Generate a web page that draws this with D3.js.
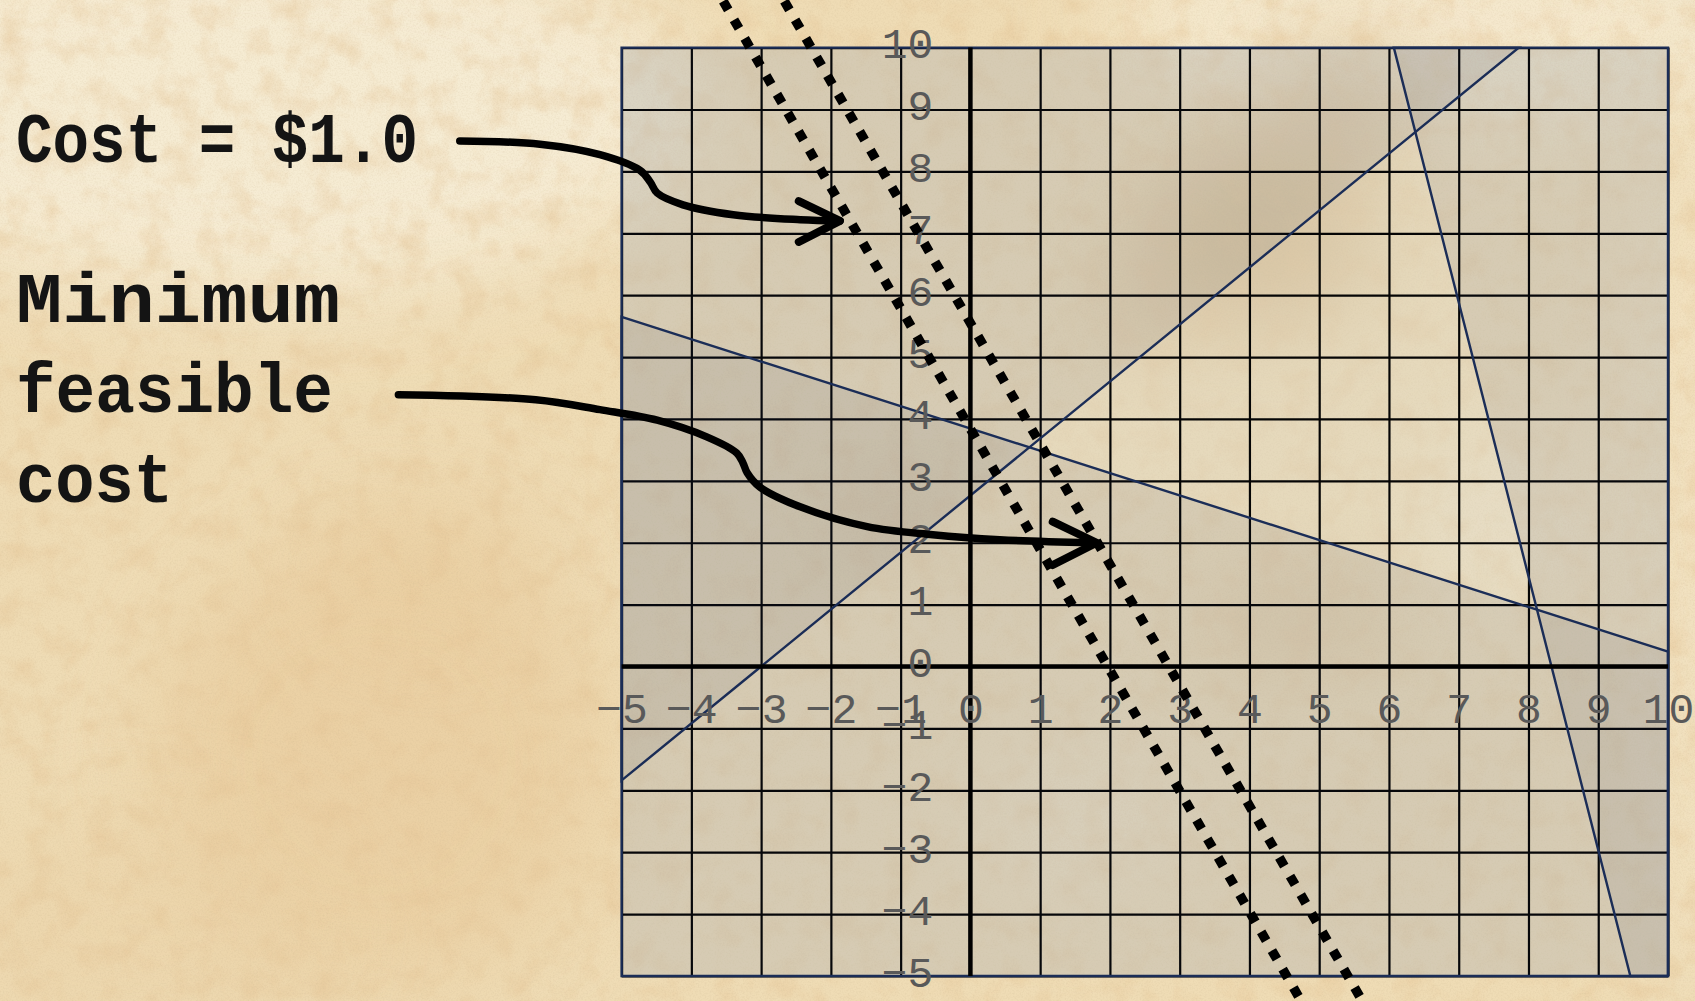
<!DOCTYPE html>
<html>
<head>
<meta charset="utf-8">
<script src="https://cdn.jsdelivr.net/npm/d3@7"></script>
<style>
  html, body { margin: 0; padding: 0; background: #efdbb3; overflow: hidden; }
  svg { display: block; }
</style>
</head>
<body>
<svg id="chart" width="1695" height="1001"></svg>
<script>
// ---- Axis ranges and tick labels ----
const xDomain = [-5, 10];
const yDomain = [-5, 10];
const xTicks = d3.range(-5, 11);
const yTicks = d3.range(-5, 11);

// ---- Constraint boundaries, each given by two (x, y) points ----
const constraintA = [[-5, -1.84], [7.86, 10]];  // rising line, infeasible above it
const constraintB = [[-5, 5.65], [10, 0.24]];   // shallow falling line, infeasible below it
const constraintC = [[6.07, 10], [9.46, -5]];   // steep falling line, infeasible right of it

// ---- Iso-cost lines: y = intercept + slope * x ----
const costSlope = -1.95;
const costIntercepts = [3.84, 5.55];
const costYExtent = [10.75, -5.6];

// ---- Annotation text ----
const costLabel = ["Cost = $1.0"];
const minLabel = ["Minimum", "feasible", "cost"];

// ---- Annotation arrows, in data coordinates ----
const costArrowPath = [[-7.32, 8.49], [-6.17, 8.44], [-5.31, 8.27], [-4.74, 8.02], [-4.59, 7.83],
  [-4.49, 7.65], [-4.12, 7.46], [-3.40, 7.30], [-2.44, 7.22], [-1.87, 7.20]];
const costArrowHead = [[-2.46, 7.52], [-1.87, 7.20], [-2.46, 6.86]];
const minArrowPath = [[-8.20, 4.39], [-6.23, 4.31], [-5.31, 4.15], [-4.49, 3.98], [-3.78, 3.71],
  [-3.35, 3.45], [-3.26, 3.29], [-3.20, 3.13], [-3.02, 2.90], [-2.44, 2.58], [-1.48, 2.26],
  [-0.54, 2.13], [0.42, 2.05], [1.74, 2.00]];
const minArrowHead = [[1.18, 2.34], [1.81, 2.00], [1.18, 1.64]];

// ---- Layout ----
const W = 1695, H = 1001;
const plot = { left: 621.6, right: 1668, top: 47.6, bottom: 976 };
const navy = "#1b2d57";

const svg = d3.select("#chart");
const x = d3.scaleLinear().domain(xDomain).range([plot.left, plot.right]);
const y = d3.scaleLinear().domain(yDomain).range([plot.bottom, plot.top]);

// ---- Parchment background ----
const defs = svg.append("defs");
const soft = defs.append("filter").attr("id", "soft")
  .attr("x", "-50%").attr("y", "-50%").attr("width", "200%").attr("height", "200%");
soft.append("feGaussianBlur").attr("stdDeviation", 45);
const soft2 = defs.append("filter").attr("id", "soft2")
  .attr("x", "-50%").attr("y", "-50%").attr("width", "200%").attr("height", "200%");
soft2.append("feGaussianBlur").attr("stdDeviation", 14);
const grain = defs.append("filter").attr("id", "grain")
  .attr("x", 0).attr("y", 0).attr("width", "100%").attr("height", "100%");
grain.append("feTurbulence").attr("type", "fractalNoise")
  .attr("baseFrequency", 0.035).attr("numOctaves", 4).attr("seed", 11);
grain.append("feColorMatrix").attr("type", "matrix")
  .attr("values", "0 0 0 0 0.78  0 0 0 0 0.55  0 0 0 0 0.30  0 0 0 -2.2 1.25");
const fine = defs.append("filter").attr("id", "fine")
  .attr("x", 0).attr("y", 0).attr("width", "100%").attr("height", "100%");
fine.append("feTurbulence").attr("type", "fractalNoise")
  .attr("baseFrequency", 0.6).attr("numOctaves", 2).attr("seed", 3);
fine.append("feColorMatrix").attr("type", "matrix")
  .attr("values", "0 0 0 0 0.5  0 0 0 0 0.38  0 0 0 0 0.22  0 0 0 -1.2 0.72");

const bg = svg.append("g").attr("class", "paper");
bg.append("rect").attr("width", W).attr("height", H).attr("fill", "#efdcb5");
const washes = [
  { cx: 260, cy: 110, rx: 440, ry: 190, c: "#f7edd5", o: 0.95 },
  { cx: 1500, cy: 20, rx: 400, ry: 110, c: "#f6ebd2", o: 0.85 },
  { cx: 1690, cy: 500, rx: 70, ry: 500, c: "#f3e4c6", o: 0.7 },
  { cx: 380, cy: 760, rx: 230, ry: 230, c: "#e8c999", o: 0.55 },
  { cx: 140, cy: 930, rx: 200, ry: 110, c: "#ead1a6", o: 0.5 },
  { cx: 430, cy: 560, rx: 120, ry: 80, c: "#e9cc9e", o: 0.45 },
  { cx: 1260, cy: 230, rx: 110, ry: 100, c: "#b48a55", o: 0.38 },
  { cx: 1350, cy: 105, rx: 70, ry: 55, c: "#b48a55", o: 0.38 },
  { cx: 1150, cy: 300, rx: 55, ry: 60, c: "#c09a66", o: 0.3 },
  { cx: 1300, cy: 620, rx: 120, ry: 55, c: "#c8a676", o: 0.3 },
  { cx: 890, cy: 515, rx: 55, ry: 38, c: "#c09a66", o: 0.35 },
  { cx: 1080, cy: 820, rx: 120, ry: 90, c: "#f3e7cc", o: 0.45 },
  { cx: 1500, cy: 520, rx: 90, ry: 90, c: "#f3e8d0", o: 0.5 }
];
bg.selectAll("ellipse.wash").data(washes).join("ellipse")
  .attr("class", "wash")
  .attr("cx", d => d.cx).attr("cy", d => d.cy)
  .attr("rx", d => d.rx).attr("ry", d => d.ry)
  .attr("fill", d => d.c).attr("opacity", d => d.o)
  .attr("filter", "url(#soft)");
bg.append("rect").attr("width", W).attr("height", H)
  .attr("filter", "url(#grain)").attr("opacity", 0.45);
bg.append("rect").attr("width", W).attr("height", H)
  .attr("filter", "url(#fine)").attr("opacity", 0.25);

// ---- Plot area tint ----
svg.append("rect")
  .attr("x", plot.left).attr("y", plot.top)
  .attr("width", plot.right - plot.left).attr("height", plot.bottom - plot.top)
  .attr("fill", "rgb(216,213,200)").attr("opacity", 0.38);

// ---- Grid ----
const grid = svg.append("g").attr("class", "grid");
grid.append("g")
  .attr("transform", `translate(0,${plot.bottom})`)
  .call(d3.axisBottom(x).tickValues(xTicks).tickSize(-(plot.bottom - plot.top)).tickFormat(""))
  .call(g => g.select(".domain").remove());
grid.append("g")
  .attr("transform", `translate(${plot.left},0)`)
  .call(d3.axisLeft(y).tickValues(yTicks).tickSize(-(plot.right - plot.left)).tickFormat(""))
  .call(g => g.select(".domain").remove());
grid.selectAll("line").attr("stroke", "#050505").attr("stroke-width", 2.2);

// ---- Infeasible regions (one polygon per constraint) ----
const [x0, x1] = xDomain, [y0, y1] = yDomain;
const regions = [
  [constraintA[0], constraintA[1], [x0, y1]],
  [constraintB[0], constraintB[1], [x1, y0], [x0, y0]],
  [constraintC[0], [x1, y1], [x1, y0], constraintC[1]]
];
const poly = d3.line().x(d => x(d[0])).y(d => y(d[1])).curve(d3.curveLinearClosed);
svg.append("g").attr("class", "regions")
  .selectAll("path").data(regions).join("path")
  .attr("d", poly)
  .attr("fill", navy).attr("fill-opacity", 0.075)
  .attr("stroke", navy).attr("stroke-width", 2.4)
  .attr("stroke-linejoin", "miter");

// ---- Main axes through the origin ----
const axes = svg.append("g").attr("class", "origin-axes");
axes.append("line")
  .attr("x1", x(0)).attr("x2", x(0)).attr("y1", y(y1)).attr("y2", y(y0))
  .attr("stroke", "#000").attr("stroke-width", 4.5);
axes.append("line")
  .attr("x1", x(x0)).attr("x2", x(x1)).attr("y1", y(0)).attr("y2", y(0))
  .attr("stroke", "#000").attr("stroke-width", 4.5);

// ---- Tick labels ----
const tickFont = "'Liberation Mono', 'DejaVu Sans Mono', monospace";
const xAxis = svg.append("g")
  .attr("transform", `translate(0,${y(0)})`)
  .call(d3.axisBottom(x).tickValues(xTicks).tickSize(0));
xAxis.select(".domain").remove();
xAxis.selectAll("text")
  .attr("y", 56).attr("dy", null)
  .attr("font-family", tickFont).attr("font-size", 43)
  .attr("fill", "#595959");

const yAxis = svg.append("g")
  .attr("transform", `translate(${x(0)},0)`)
  .call(d3.axisLeft(y).tickValues(yTicks).tickSize(0));
yAxis.select(".domain").remove();
yAxis.selectAll("text")
  .attr("x", -37).attr("y", 10).attr("dy", null)
  .attr("text-anchor", "end")
  .attr("font-family", tickFont).attr("font-size", 43)
  .attr("fill", "#595959");

// ---- Iso-cost lines (dotted) ----
const costLine = d3.line().x(d => x(d[0])).y(d => y(d[1]));
svg.append("g").attr("class", "cost-lines")
  .selectAll("path").data(costIntercepts).join("path")
  .attr("d", c => costLine(costYExtent.map(v => [(v - c) / costSlope, v])))
  .attr("fill", "none").attr("stroke", "#000")
  .attr("stroke-width", 9.5).attr("stroke-dasharray", "10 11.5");

// ---- Annotation arrows ----
const curve = d3.line().x(d => x(d[0])).y(d => y(d[1])).curve(d3.curveCatmullRom.alpha(0.5));
const straight = d3.line().x(d => x(d[0])).y(d => y(d[1]));
const arrows = svg.append("g").attr("class", "arrows")
  .attr("fill", "none").attr("stroke", "#000")
  .attr("stroke-linecap", "round").attr("stroke-linejoin", "round");
arrows.selectAll("path.shaft").data([costArrowPath, minArrowPath]).join("path")
  .attr("class", "shaft").attr("d", curve).attr("stroke-width", 7.5);
arrows.selectAll("path.head").data([costArrowHead, minArrowHead]).join("path")
  .attr("class", "head").attr("d", straight).attr("stroke-width", 8);

// ---- Annotation text ----
const noteFont = "'Liberation Mono', 'DejaVu Sans Mono', monospace";
const notes = svg.append("g").attr("class", "notes")
  .attr("font-family", noteFont).attr("font-weight", "bold")
  .attr("font-size", 70).attr("fill", "#141414");
const noteLines = [
  { t: costLabel[0], y: 162, w: 402 },
  { t: minLabel[0], y: 322, w: 324 },
  { t: minLabel[1], y: 412, w: 317 },
  { t: minLabel[2], y: 502, w: 157 }
];
notes.selectAll("text").data(noteLines).join("text")
  .attr("x", 16).attr("y", d => d.y)
  .attr("textLength", d => d.w).attr("lengthAdjust", "spacingAndGlyphs")
  .text(d => d.t);
</script>
</body>
</html>
